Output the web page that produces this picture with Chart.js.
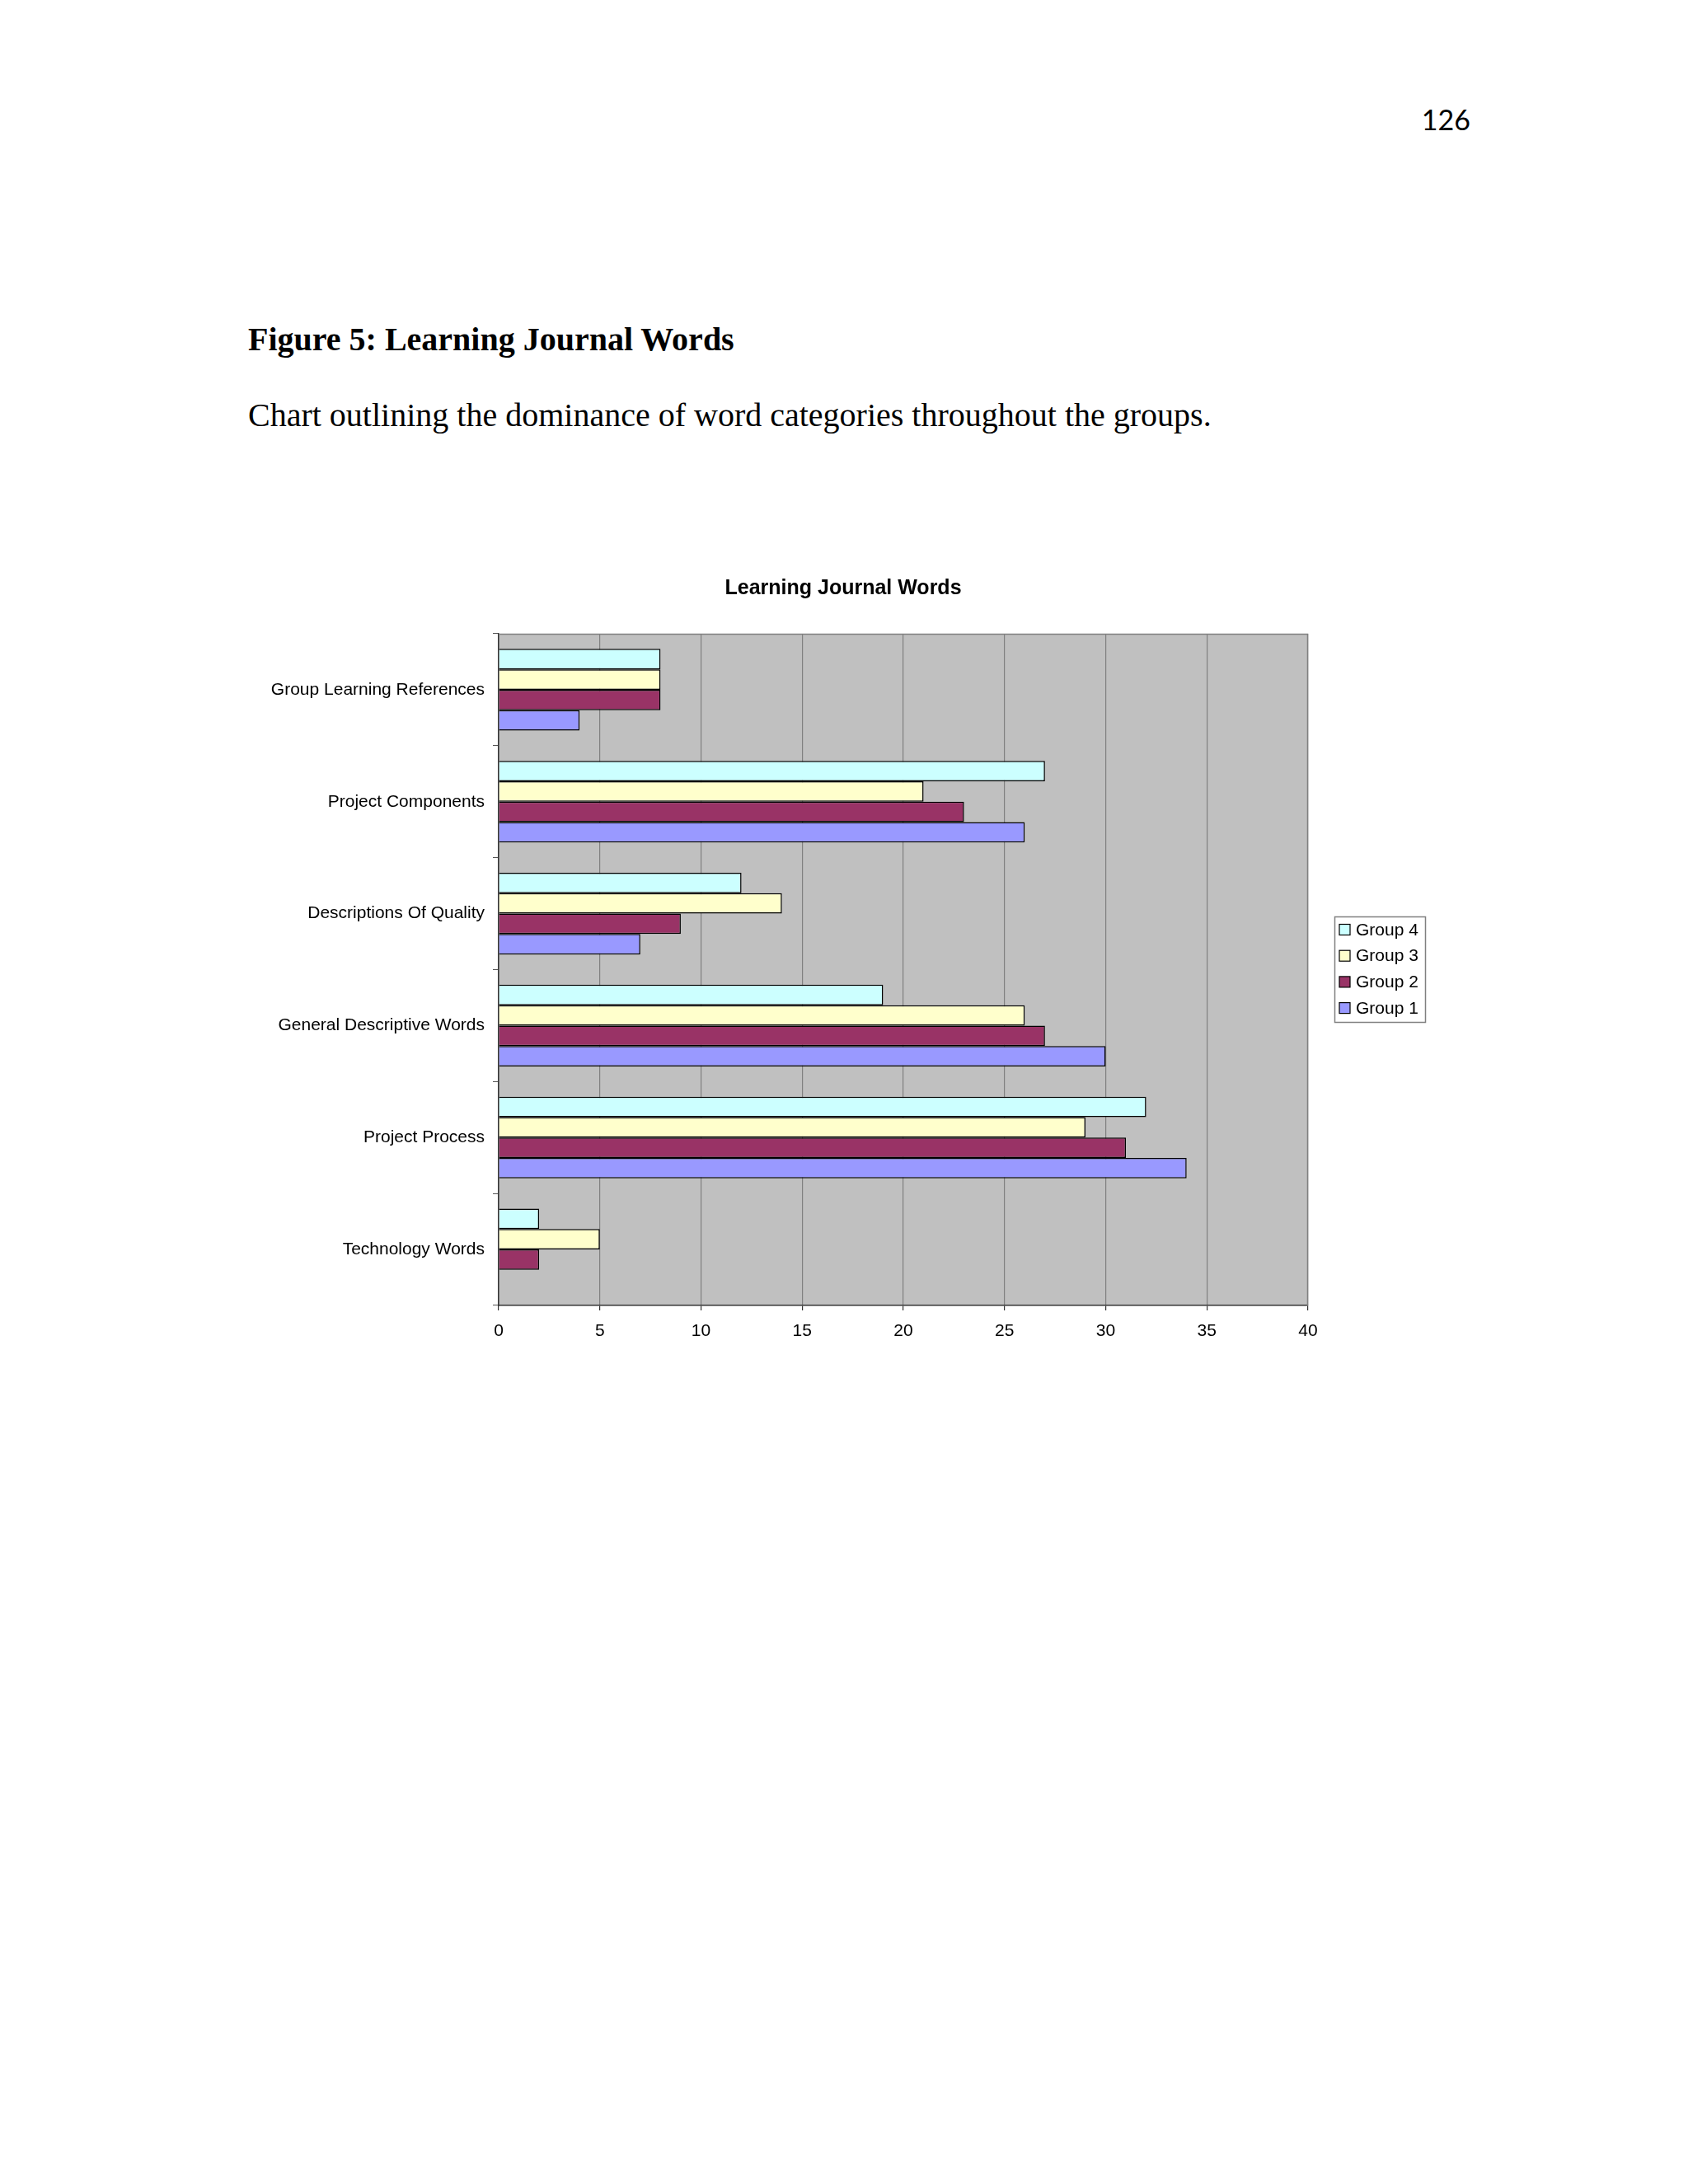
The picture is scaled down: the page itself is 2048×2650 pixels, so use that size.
<!DOCTYPE html>
<html>
<head>
<meta charset="utf-8">
<script src="https://cdn.jsdelivr.net/npm/chart.js@4.4.1/dist/chart.umd.min.js"></script>
<style>
  body { margin: 0; background: #fff; width: 2048px; height: 2650px; position: relative; overflow: hidden; }
  .pagenum { position: absolute; right: 264px; top: 128px; font: 34px Lato, "Noto Sans", sans-serif; line-height: 1; color: #000; }
  .heading { position: absolute; left: 301px; top: 392px; font: bold 40px "Liberation Serif", "Times New Roman", serif; line-height: 1; color: #000; }
  .caption { position: absolute; left: 301px; top: 484px; font: 40px "Liberation Serif", "Times New Roman", serif; line-height: 1; color: #000; }
  #wrap { position: absolute; left: 0; top: 680px; width: 2048px; height: 980px; }
</style>
</head>
<body>
<div class="pagenum">126</div>
<div class="heading">Figure 5: Learning Journal Words</div>
<div class="caption">Chart outlining the dominance of word categories throughout the groups.</div>
<div id="wrap"><canvas id="chart" width="2048" height="980"></canvas></div>

<script>
// categories top to bottom
var categories = [
  'Group Learning References',
  'Project Components',
  'Descriptions Of Quality',
  'General Descriptive Words',
  'Project Process',
  'Technology Words'
];

var group4 = [8, 27, 12, 19, 32, 2];
var group3 = [8, 21, 14, 26, 29, 5];
var group2 = [8, 23, 9, 27, 31, 2];
var group1 = [4, 26, 7, 30, 34, 0];

var xTicks = [0, 5, 10, 15, 20, 25, 30, 35, 40];

var chartTitle = 'Learning Journal Words';

var font = 'Liberation Sans, Arial, sans-serif';

// grey plot area + top/right frame
var plotBack = {
  id: 'plotBack',
  beforeDraw: function(chart) {
    var a = chart.chartArea, ctx = chart.ctx;
    ctx.save();
    ctx.fillStyle = '#c0c0c0';
    ctx.fillRect(a.left, a.top, a.right - a.left, a.bottom - a.top);
    ctx.restore();
  },
  afterDraw: function(chart) {
    var a = chart.chartArea, ctx = chart.ctx;
    ctx.save();
    ctx.strokeStyle = '#808080';
    ctx.lineWidth = 1.5;
    ctx.beginPath();
    ctx.moveTo(a.left, a.top + 0.5);
    ctx.lineTo(a.right - 0.5, a.top + 0.5);
    ctx.lineTo(a.right - 0.5, a.bottom);
    ctx.stroke();
    // title is centred on the whole chart object, not the plot
    ctx.fillStyle = '#000';
    ctx.font = 'bold 25px ' + font;
    ctx.textAlign = 'center';
    ctx.textBaseline = 'middle';
    ctx.fillText(chartTitle, 1023, 34);
    ctx.restore();
  }
};

// boxed legend to the right, like the excel one
var boxLegend = {
  id: 'boxLegend',
  afterDraw: function(chart) {
    var ctx = chart.ctx;
    var x = 1619, y = 432, w = 110, h = 128;
    ctx.save();
    ctx.fillStyle = '#fff';
    ctx.fillRect(x, y, w, h);
    ctx.strokeStyle = '#808080';
    ctx.lineWidth = 1.5;
    ctx.strokeRect(x + 0.5, y + 0.5, w, h);
    ctx.font = '21px ' + font;
    ctx.textBaseline = 'middle';
    chart.data.datasets.forEach(function(ds, i) {
      var cy = 448 + i * 31.7;
      ctx.fillStyle = ds.backgroundColor;
      ctx.fillRect(1625, cy - 6.5, 13, 13);
      ctx.strokeStyle = '#000';
      ctx.lineWidth = 1.2;
      ctx.strokeRect(1625, cy - 6.5, 13, 13);
      ctx.fillStyle = '#000';
      ctx.fillText(ds.label, 1645, cy + 1);
    });
    ctx.restore();
  }
};

var ctx = document.getElementById('chart');
var chart = new Chart(ctx, {
  type: 'bar',
  data: {
    labels: categories,
    datasets: [
      { label: 'Group 4', data: group4, backgroundColor: '#ccffff' },
      { label: 'Group 3', data: group3, backgroundColor: '#ffffcc' },
      { label: 'Group 2', data: group2, backgroundColor: '#993366' },
      { label: 'Group 1', data: group1, backgroundColor: '#9999ff' }
    ]
  },
  options: {
    indexAxis: 'y',
    responsive: false,
    animation: false,
    devicePixelRatio: 1,
    datasets: {
      bar: {
        borderColor: '#000',
        borderWidth: 1.5,
        categoryPercentage: 0.73,
        barPercentage: 1
      }
    },
    layout: { padding: { left: 0, right: 461, top: 89, bottom: 0 } },
    plugins: {
      legend: { display: false },
      tooltip: { enabled: false },
      title: { display: false }
    },
    scales: {
      x: {
        min: 0,
        max: 40,
        afterBuildTicks: function(scale) {
          scale.ticks = xTicks.map(function(v) { return { value: v }; });
        },
        afterFit: function(scale) { scale.height = 76; },
        grid: { color: '#808080', lineWidth: 1.2, tickLength: 6, tickColor: '#333' },
        border: { color: '#333', width: 1.5 },
        ticks: { color: '#000', font: { family: font, size: 21 }, padding: 13, maxRotation: 0 }
      },
      y: {
        afterFit: function(scale) { scale.width = 605; },
        grid: { drawOnChartArea: false, offset: true, tickLength: 7, tickColor: '#555' },
        border: { color: '#333', width: 1.5 },
        ticks: { color: '#000', font: { family: font, size: 21 }, padding: 10 }
      }
    }
  },
  plugins: [plotBack, boxLegend]
});
</script>
</body>
</html>
